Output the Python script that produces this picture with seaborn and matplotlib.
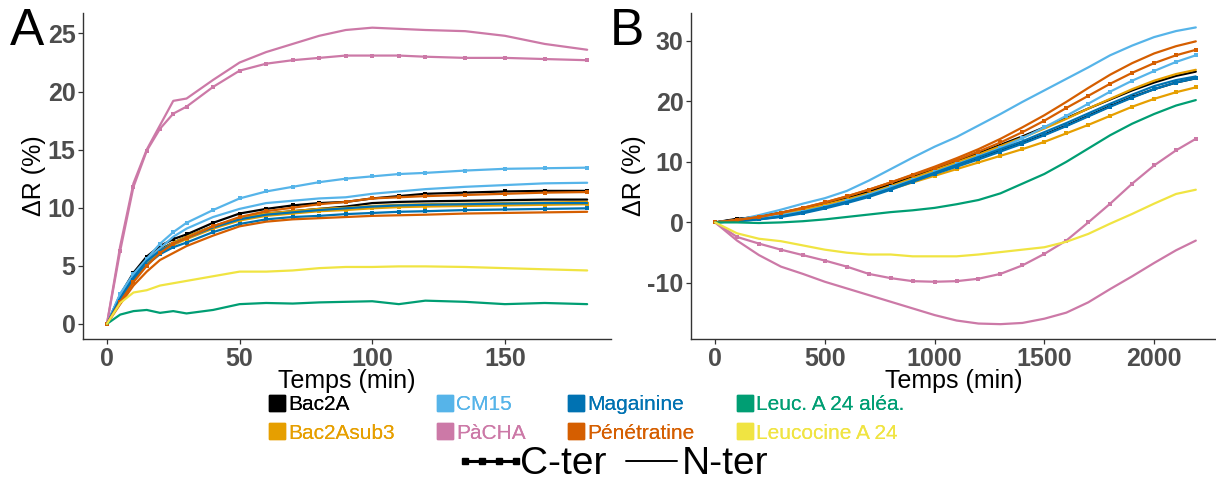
import pandas as pd
import matplotlib
matplotlib.use('Agg')
import matplotlib.pyplot as plt
import seaborn as sns
from matplotlib.lines import Line2D
from matplotlib.legend_handler import HandlerLine2D

# peptides, colours (Okabe-Ito) and legend order
peptides = ['Bac2A', 'Bac2Asub3', 'CM15', 'PàCHA', 'Magainine', 'Pénétratine',
            'Leuc. A 24 aléa.', 'Leucocine A 24']
colors = ['#000000', '#E69F00', '#56B4E9', '#CC79A7', '#0072B2', '#D55E00',
          '#009E73', '#F0E442']

'''panel A : temps (min)'''
time_a = [0, 5, 10, 15, 20, 25, 30, 40, 50, 60, 70, 80, 90, 100, 110, 120, 135, 150, 165, 181]

a_bac2a_c = [0, 2.5, 4.4, 5.8, 6.7, 7.3, 7.7, 8.7, 9.5, 9.9, 10.2, 10.4, 10.5, 10.8, 11.0, 11.2, 11.3, 11.4, 11.45, 11.45]
a_bac2a_n = [0, 2.3, 4.1, 5.5, 6.4, 7.0, 7.5, 8.4, 9.1, 9.5, 9.7, 9.9, 10.1, 10.4, 10.5, 10.55, 10.6, 10.65, 10.7, 10.7]
a_sub3_c = [0, 2.0, 3.8, 5.1, 6.1, 6.8, 7.3, 8.2, 8.9, 9.3, 9.5, 9.7, 9.8, 9.95, 10.05, 10.1, 10.15, 10.2, 10.25, 10.3]
a_sub3_n = [0, 2.1, 3.9, 5.3, 6.3, 7.0, 7.5, 8.4, 9.1, 9.5, 9.7, 9.9, 10.0, 10.15, 10.25, 10.3, 10.35, 10.4, 10.45, 10.5]
a_cm15_c = [0, 2.6, 4.3, 5.6, 6.9, 7.9, 8.7, 9.8, 10.8, 11.4, 11.8, 12.2, 12.5, 12.7, 12.9, 13.0, 13.2, 13.35, 13.4, 13.45]
a_cm15_n = [0, 2.5, 4.2, 5.4, 6.5, 7.5, 8.2, 9.2, 9.9, 10.4, 10.6, 10.8, 10.9, 11.2, 11.4, 11.6, 11.8, 11.95, 12.1, 12.15]
a_pacha_c = [0, 6.3, 11.8, 14.9, 16.8, 18.1, 18.7, 20.4, 21.8, 22.4, 22.7, 22.9, 23.1, 23.1, 23.1, 23.0, 22.9, 22.9, 22.8, 22.7]
a_pacha_n = [0, 6.7, 12.1, 15.0, 17.1, 19.2, 19.4, 21.0, 22.5, 23.4, 24.1, 24.8, 25.3, 25.5, 25.4, 25.3, 25.2, 24.8, 24.1, 23.6]
a_maga_c = [0, 2.0, 3.8, 5.1, 6.0, 6.6, 7.0, 7.9, 8.6, 9.0, 9.2, 9.3, 9.45, 9.55, 9.65, 9.7, 9.8, 9.85, 9.9, 9.95]
a_maga_n = [0, 2.2, 4.0, 5.4, 6.3, 6.9, 7.4, 8.3, 9.0, 9.4, 9.6, 9.8, 9.95, 10.1, 10.2, 10.25, 10.3, 10.35, 10.4, 10.4]
a_pene_c = [0, 1.9, 3.6, 5.0, 6.1, 6.9, 7.4, 8.4, 9.2, 9.7, 10.0, 10.3, 10.5, 10.8, 10.9, 11.0, 11.1, 11.2, 11.3, 11.35]
a_pene_n = [0, 1.7, 3.3, 4.5, 5.5, 6.1, 6.7, 7.6, 8.4, 8.8, 9.0, 9.1, 9.2, 9.3, 9.35, 9.4, 9.5, 9.55, 9.6, 9.65]
a_alea_n = [0, 0.8, 1.1, 1.2, 0.95, 1.1, 0.9, 1.2, 1.7, 1.8, 1.75, 1.85, 1.9, 1.95, 1.7, 2.0, 1.9, 1.7, 1.8, 1.7]
a_leuc_n = [0, 1.8, 2.7, 2.9, 3.3, 3.5, 3.7, 4.1, 4.5, 4.5, 4.6, 4.8, 4.9, 4.9, 4.95, 4.95, 4.9, 4.8, 4.7, 4.6]

'''panel B : temps (min)'''
time_b = [0, 100, 200, 300, 400, 500, 600, 700, 800, 900, 1000, 1100, 1200, 1300, 1400, 1500,
          1600, 1700, 1800, 1900, 2000, 2100, 2190]

b_bac2a_c = [0, 0.6, 0.9, 1.4, 2.0, 2.8, 3.7, 4.7, 5.9, 7.1, 8.3, 9.5, 10.7, 11.9, 13.1, 14.5, 16.0, 17.6, 19.2, 20.7, 22.0, 23.1, 23.8]
b_bac2a_n = [0, 0.5, 1.0, 1.6, 2.3, 3.1, 4.0, 5.1, 6.3, 7.5, 8.8, 10.1, 11.4, 12.8, 14.2, 15.7, 17.2, 18.8, 20.3, 21.8, 23.1, 24.2, 24.9]
b_sub3_c = [0, 0.3, 0.7, 1.2, 1.8, 2.6, 3.4, 4.4, 5.5, 6.6, 7.7, 8.8, 9.9, 11.0, 12.1, 13.3, 14.7, 16.1, 17.6, 19.1, 20.4, 21.5, 22.3]
b_sub3_n = [0, 0.3, 0.8, 1.4, 2.1, 2.9, 3.8, 4.8, 6.0, 7.3, 8.6, 9.9, 11.2, 12.6, 14.0, 15.5, 17.1, 18.8, 20.4, 22.0, 23.4, 24.5, 25.2]
b_cm15_c = [0, 0.3, 0.7, 1.2, 1.8, 2.6, 3.5, 4.6, 5.8, 7.0, 8.3, 9.6, 10.9, 12.3, 13.9, 15.7, 17.6, 19.6, 21.6, 23.4, 25.0, 26.5, 27.6]
b_cm15_n = [0, 0.4, 1.2, 2.1, 3.1, 4.0, 5.2, 6.9, 8.8, 10.7, 12.5, 14.1, 16.0, 17.9, 19.9, 21.8, 23.7, 25.6, 27.6, 29.2, 30.6, 31.6, 32.2]
b_pacha_c = [0, -2.4, -3.5, -4.5, -5.4, -6.3, -7.3, -8.5, -9.2, -9.7, -9.8, -9.7, -9.3, -8.5, -7.1, -5.2, -3.0, 0.0, 3.1, 6.4, 9.4, 11.9, 13.8]
b_pacha_n = [0, -3.0, -5.4, -7.3, -8.5, -9.8, -10.9, -12.0, -13.1, -14.2, -15.3, -16.2, -16.7, -16.8, -16.6, -15.9, -14.9, -13.2, -11.0, -8.9, -6.7, -4.6, -3.0]
b_maga_c = [0, 0.2, 0.5, 0.9, 1.5, 2.3, 3.2, 4.2, 5.4, 6.7, 8.0, 9.2, 10.4, 11.7, 13.0, 14.4, 15.9, 17.5, 19.1, 20.6, 22.0, 23.1, 23.8]
b_maga_n = [0, 0.2, 0.5, 1.0, 1.7, 2.5, 3.4, 4.4, 5.6, 6.9, 8.2, 9.5, 10.8, 12.1, 13.4, 14.9, 16.4, 18.0, 19.6, 21.1, 22.5, 23.5, 24.1]
b_pene_c = [0, 0.4, 0.9, 1.6, 2.4, 3.3, 4.3, 5.4, 6.6, 7.8, 9.0, 10.3, 11.7, 13.2, 14.9, 16.8, 18.9, 20.9, 22.9, 24.7, 26.3, 27.6, 28.5]
b_pene_n = [0, 0.4, 0.9, 1.6, 2.4, 3.3, 4.3, 5.4, 6.6, 7.9, 9.2, 10.6, 12.1, 13.8, 15.7, 17.7, 19.9, 22.2, 24.4, 26.3, 27.9, 29.1, 29.9]
b_alea_n = [0, 0, -0.1, 0, 0.2, 0.5, 0.9, 1.3, 1.7, 2.0, 2.4, 3.0, 3.7, 4.8, 6.4, 8.0, 10.0, 12.2, 14.4, 16.3, 17.9, 19.3, 20.2]
b_leuc_n = [0, -1.8, -2.7, -3.1, -3.8, -4.5, -5.0, -5.3, -5.3, -5.6, -5.6, -5.6, -5.3, -4.9, -4.5, -4.1, -3.2, -1.9, -0.2, 1.4, 3.1, 4.7, 5.4]

series_a = [('Bac2A', 'N-ter', a_bac2a_n), ('Bac2A', 'C-ter', a_bac2a_c),
            ('Bac2Asub3', 'N-ter', a_sub3_n), ('Bac2Asub3', 'C-ter', a_sub3_c),
            ('CM15', 'N-ter', a_cm15_n), ('CM15', 'C-ter', a_cm15_c),
            ('PàCHA', 'N-ter', a_pacha_n), ('PàCHA', 'C-ter', a_pacha_c),
            ('Magainine', 'N-ter', a_maga_n), ('Magainine', 'C-ter', a_maga_c),
            ('Pénétratine', 'N-ter', a_pene_n), ('Pénétratine', 'C-ter', a_pene_c),
            ('Leuc. A 24 aléa.', 'N-ter', a_alea_n), ('Leucocine A 24', 'N-ter', a_leuc_n)]
series_b = [('Bac2A', 'N-ter', b_bac2a_n), ('Bac2A', 'C-ter', b_bac2a_c),
            ('Bac2Asub3', 'N-ter', b_sub3_n), ('Bac2Asub3', 'C-ter', b_sub3_c),
            ('CM15', 'N-ter', b_cm15_n), ('CM15', 'C-ter', b_cm15_c),
            ('PàCHA', 'N-ter', b_pacha_n), ('PàCHA', 'C-ter', b_pacha_c),
            ('Magainine', 'N-ter', b_maga_n), ('Magainine', 'C-ter', b_maga_c),
            ('Pénétratine', 'N-ter', b_pene_n), ('Pénétratine', 'C-ter', b_pene_c),
            ('Leuc. A 24 aléa.', 'N-ter', b_alea_n), ('Leucocine A 24', 'N-ter', b_leuc_n)]


def to_long(t, series):
    rows = []
    for pep, term, vals in series:
        for x, y in zip(t, vals):
            rows.append({'temps': x, 'dr': y, 'peptide': pep, 'terminus': term})
    return pd.DataFrame(rows)


df_a = to_long(time_a, series_a)
df_b = to_long(time_b, series_b)
palette = dict(zip(peptides, colors))

sns.set_theme(style='white')
plt.rcParams['font.family'] = ['Liberation Sans', 'DejaVu Sans']
plt.rcParams['axes.unicode_minus'] = False

fig = plt.figure(figsize=(12.16, 4.82), dpi=100)
ax_a = fig.add_axes([0.0683, 0.2967, 0.4342, 0.6772])
ax_b = fig.add_axes([0.5683, 0.2967, 0.4317, 0.6772])


def draw(ax, df):
    for (pep, term), sub in df.groupby(['peptide', 'terminus'], sort=False):
        sns.lineplot(data=sub, x='temps', y='dr', ax=ax, color=palette[pep],
                     lw=1.6, marker='s' if term == 'C-ter' else None,
                     markersize=3.5, markeredgewidth=0, legend=False)


draw(ax_a, df_a)
draw(ax_b, df_b)

ax_a.set_xlim(-9, 190)
ax_a.set_ylim(-1.3, 26.8)
ax_a.set_xticks([0, 50, 100, 150])
ax_a.set_yticks([0, 5, 10, 15, 20, 25])
ax_b.set_xlim(-109.5, 2282)
ax_b.set_ylim(-19.25, 34.65)
ax_b.set_xticks([0, 500, 1000, 1500, 2000])
ax_b.set_yticks([-10, 0, 10, 20, 30])

for ax in (ax_a, ax_b):
    sns.despine(ax=ax)
    for s in ('left', 'bottom'):
        ax.spines[s].set_color('#333333')
        ax.spines[s].set_linewidth(1.0)
    ax.tick_params(axis='both', length=3.5, width=0.9, color='#333333',
                   labelcolor='#4D4D4D', labelsize=18, pad=2, direction='out',
                   bottom=True, left=True)
    for lab in ax.get_xticklabels() + ax.get_yticklabels():
        lab.set_fontweight('bold')
    ax.set_xlabel('Temps (min)', fontsize=18, labelpad=-1, color='black')
    ax.set_ylabel('ΔR (%)', fontsize=18, labelpad=1, color='black')

fig.text(0.0222, 0.934, 'A', fontsize=37, ha='center', va='center', color='black')
fig.text(0.5156, 0.934, 'B', fontsize=37, ha='center', va='center', color='black')

'''legende peptides'''
handles = [Line2D([], [], ls='none', marker='s', markersize=11, color=c) for c in colors]
leg = fig.legend(handles, peptides, ncol=4, loc='center', bbox_to_anchor=(0.4827, 0.131),
                 frameon=False, fontsize=15, handlelength=0.7, handletextpad=0.2,
                 columnspacing=2.05, labelspacing=0.45, borderpad=0, numpoints=1)
for txt, c in zip(leg.get_texts(), colors):
    txt.set_color(c)

'''legende terminus'''
h_term = [Line2D([], [], color='black', lw=2.2, marker='s', markersize=5),
          Line2D([], [], color='black', lw=1.4)]
leg2 = fig.legend(h_term, ['C-ter', 'N-ter'], ncol=2, loc='center', bbox_to_anchor=(0.507, 0.037),
                  frameon=False, fontsize=28, handlelength=1.3, handletextpad=0.12,
                  columnspacing=0.5, borderpad=0,
                  handler_map={Line2D: HandlerLine2D(marker_pad=0, numpoints=4)})
for txt in leg2.get_texts():
    txt.set_color('black')
fig.add_artist(leg)

fig.savefig('out.png', dpi=100)
